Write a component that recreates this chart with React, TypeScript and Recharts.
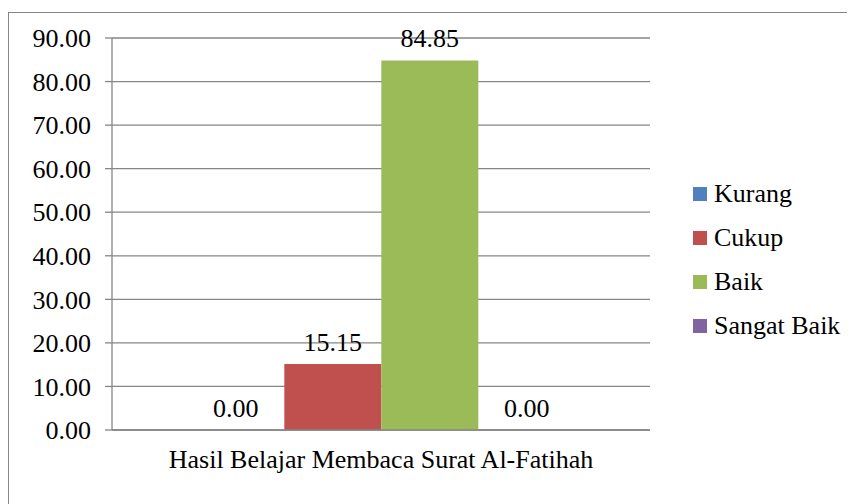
import React from "react";
import {
  BarChart,
  Bar,
  XAxis,
  YAxis,
  CartesianGrid,
  Legend,
  LabelList,
} from "recharts";

// category and series
const categories = ["Hasil Belajar Membaca Surat Al-Fatihah"];
const seriesNames = ["Kurang", "Cukup", "Baik", "Sangat Baik"];
const seriesValues = [0.0, 15.15, 84.85, 0.0];
const seriesColors = ["#4F81BD", "#C0504D", "#9BBB59", "#8064A2"];
const yTicks = [0, 10, 20, 30, 40, 50, 60, 70, 80, 90];

const data = categories.map((name) => {
  const row: Record<string, string | number> = { name };
  seriesNames.forEach((s, i) => {
    row[s] = seriesValues[i];
  });
  return row;
});

const FONT = "Liberation Serif, Tinos, Times New Roman, DejaVu Serif, serif";
const GRID = "#868686";

// keep legend in series order (recharts sorts by default)
const LegendBox = () => (
  <div style={{ fontFamily: FONT, fontSize: 26, color: "#000" }}>
    {seriesNames.map((s, i) => (
      <div key={s} style={{ height: 44, display: "flex", alignItems: "center" }}>
        <span
          style={{
            width: 14,
            height: 14,
            background: seriesColors[i],
            marginRight: 7,
            display: "inline-block",
          }}
        />
        <span>{s}</span>
      </div>
    ))}
  </div>
);

export default function App() {
  return (
    <div style={{ width: 847, height: 496, overflow: "hidden" }}>
      <div
        style={{
          marginTop: 4,
          width: 900,
          height: 540,
          border: `1px solid ${GRID}`,
          boxSizing: "border-box",
          background: "#fff",
        }}
      >
        <BarChart
          width={846}
          height={490}
          data={data}
          margin={{ top: 25, right: 40, left: 0, bottom: 23 }}
          barCategoryGap="14%"
          barGap={0}
          style={{ fontFamily: FONT }}
        >
          <CartesianGrid vertical={false} stroke={GRID} strokeWidth={1.3} />
          <XAxis
            dataKey="name"
            axisLine={{ stroke: GRID, strokeWidth: 1.3 }}
            tickLine={false}
            tickMargin={14}
            height={50}
            tick={{ fontFamily: FONT, fontSize: 26, fill: "#000" }}
          />
          <YAxis
            domain={[0, 90]}
            ticks={yTicks}
            interval={0}
            width={103}
            axisLine={{ stroke: GRID, strokeWidth: 1.3 }}
            tickLine={{ stroke: GRID, strokeWidth: 1.3 }}
            tickSize={7}
            tickMargin={14}
            tickFormatter={(v: number) => v.toFixed(2)}
            tick={{ fontFamily: FONT, fontSize: 26, fill: "#000" }}
          />
          <Legend
            layout="vertical"
            align="right"
            verticalAlign="middle"
            content={<LegendBox />}
            wrapperStyle={{ width: 165, left: 684, top: 159 }}
          />
          {seriesNames.map((s, i) => (
            <Bar
              key={s}
              dataKey={s}
              fill={seriesColors[i]}
              minPointSize={0.01}
              isAnimationActive={false}
            >
              <LabelList
                dataKey={s}
                position="top"
                offset={13}
                formatter={(v: any) => Number(v).toFixed(2)}
                fontFamily={FONT}
                fontSize={26}
                fill="#000"
              />
            </Bar>
          ))}
        </BarChart>
      </div>
    </div>
  );
}
